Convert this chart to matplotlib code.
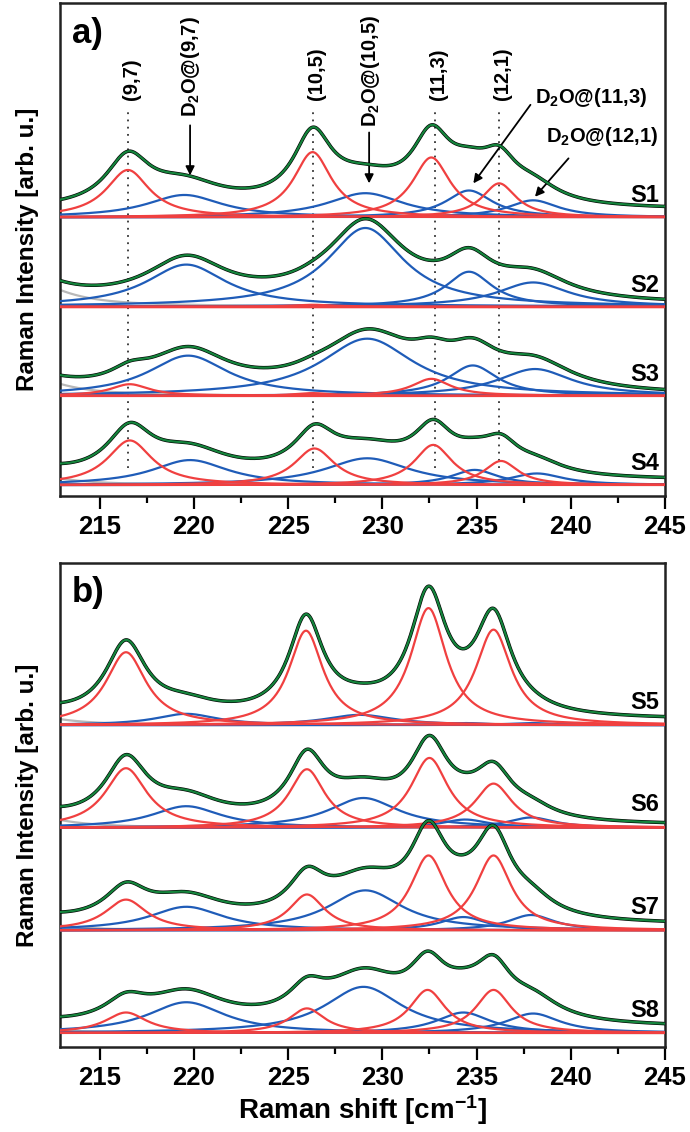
import numpy as np
import matplotlib
matplotlib.use('Agg')
import matplotlib.pyplot as plt
from matplotlib.ticker import MultipleLocator

plt.rcParams['font.family'] = ['Liberation Sans', 'DejaVu Sans']
plt.rcParams['font.weight'] = 'bold'
plt.rcParams['mathtext.fontset'] = 'custom'
plt.rcParams['mathtext.rm'] = 'Liberation Sans:bold'
plt.rcParams['mathtext.bf'] = 'Liberation Sans:bold'
plt.rcParams['mathtext.it'] = 'Liberation Sans:bold'
plt.rcParams['mathtext.default'] = 'bf'

# --- data -------------------------------------------------------------
labels_a = ['S1', 'S2', 'S3', 'S4']
labels_b = ['S5', 'S6', 'S7', 'S8']

# empty tubes (9,7) (10,5) (11,3) (12,1): centre, height, FWHM
red_pos_a = [[216.5, 226.3, 232.6, 236.2], [216.6, 226.3, 232.6, 236.2],
             [216.6, 226.3, 232.6, 236.2], [216.6, 226.4, 232.7, 236.3]]
red_amp_a = [[0.53, 0.73, 0.67, 0.38], [0.0, 0.02, 0.0, 0.0],
             [0.13, 0.03, 0.19, 0.0], [0.50, 0.41, 0.45, 0.27]]
red_fwhm_a = [[2.8, 2.45, 2.45, 2.2], [2.6, 2.4, 2.4, 2.2],
              [2.5, 2.4, 2.5, 2.2], [2.9, 2.6, 2.45, 2.2]]

# D2O filled tubes
blue_pos_a = [[219.5, 229.1, 234.6, 238.0], [219.6, 229.1, 234.6, 238.0],
              [219.7, 229.2, 234.8, 238.1], [219.8, 229.2, 234.9, 238.2]]
blue_amp_a = [[0.25, 0.27, 0.30, 0.19], [0.47, 0.88, 0.39, 0.27],
              [0.45, 0.64, 0.34, 0.30], [0.28, 0.30, 0.17, 0.13]]
blue_fwhm_a = [[4.9, 4.9, 3.0, 3.3], [5.15, 4.95, 3.0, 4.6],
               [5.2, 6.0, 3.2, 4.8], [5.0, 5.5, 3.0, 3.5]]
bg_amp_a = [0.0, 0.32, 0.23, 0.13]
offset_a = [0.08, 0.02, 0.0, 0.05]

red_pos_b = [[216.4, 225.95, 232.45, 235.9], [216.4, 226.0, 232.5, 235.9],
             [216.4, 226.0, 232.45, 235.9], [216.4, 226.0, 232.4, 235.9]]
red_amp_b = [[0.71, 0.92, 1.14, 0.93], [0.58, 0.57, 0.68, 0.43],
             [0.30, 0.35, 0.73, 0.73], [0.20, 0.24, 0.42, 0.42]]
red_fwhm_b = [[2.6, 2.2, 2.3, 2.3], [2.7, 2.3, 2.4, 2.4],
              [2.7, 2.3, 2.3, 2.3], [2.7, 2.3, 2.3, 2.3]]
blue_pos_b = [[219.6, 228.8, 234.4, 237.9], [219.6, 229.0, 234.4, 237.9],
              [219.6, 229.1, 234.3, 237.9], [219.6, 229.0, 234.3, 238.0]]
blue_amp_b = [[0.11, 0.10, 0.02, 0.02], [0.21, 0.29, 0.08, 0.10],
              [0.23, 0.39, 0.13, 0.15], [0.30, 0.45, 0.20, 0.19]]
blue_fwhm_b = [[4.0, 4.5, 3.0, 3.0], [4.5, 4.5, 3.0, 3.0],
               [4.8, 4.8, 3.0, 3.0], [5.0, 5.0, 3.5, 3.5]]
bg_amp_b = [0.10, 0.13, 0.08, 0.05]
offset_b = [0.05, 0.02, 0.05, 0.05]

# background component (grey), centred left of the window
bg_pos = 211.0
bg_fwhm = 4.5

rbm_lines = [216.5, 226.3, 232.8, 236.2]
chir_labels = ['(9,7)', '(10,5)', '(11,3)', '(12,1)']

RED = '#f04040'
BLUE = '#1f5cb8'
GREEN = '#15843c'
GREY = '#b8b8b8'

x = np.linspace(212.9, 245, 700)


def lorentz(x, x0, a, fwhm):
    return a / (1 + ((x - x0) / (fwhm / 2)) ** 2)


def draw_panel(ax, labels, rpos, ramp, rfw, bpos, bamp, bfw, bga, offs):
    n = len(labels)
    for i, lab in enumerate(labels):
        base = n - 1 - i
        bg = lorentz(x, bg_pos, bga[i], bg_fwhm)
        reds = [lorentz(x, p, a, w) for p, a, w in zip(rpos[i], ramp[i], rfw[i])]
        blues = [lorentz(x, p, a, w) for p, a, w in zip(bpos[i], bamp[i], bfw[i])]
        total = bg + sum(reds) + sum(blues) + offs[i]

        ax.plot(x, base + bg, color=GREY, lw=1.6, zorder=2)
        for b in blues:
            ax.plot(x, base + b, color=BLUE, lw=1.6, zorder=3)
        for r in reds:
            ax.plot(x, base + r, color=RED, lw=1.6, zorder=4)
        ax.plot(x, base + total, color='black', lw=2.5, zorder=5)
        ax.plot(x, base + total, color=GREEN, lw=1.6, zorder=6)
        ax.text(244.7, base + 0.11, lab, ha='right', va='bottom',
                fontsize=17, fontweight='bold', zorder=7)

    ax.set_xlim(212.9, 245)
    ax.set_yticks([])
    ax.xaxis.set_major_locator(MultipleLocator(5))
    ax.xaxis.set_minor_locator(MultipleLocator(2.5))
    ax.tick_params(axis='x', which='major', direction='out', length=9,
                   width=1.6, labelsize=18.5, pad=5)
    ax.tick_params(axis='x', which='minor', direction='out', length=5, width=1.6)
    for s in ax.spines.values():
        s.set_linewidth(1.8)
        s.set_color('#222222')
    ax.set_ylabel('Raman Intensity [arb. u.]', fontsize=17.5, fontweight='bold')
    ax.yaxis.set_label_coords(-0.035, 0.5)


fig = plt.figure(figsize=(6.9, 11.32), dpi=100)
ax1 = fig.add_axes([0.087, 0.5618, 0.8768, 0.4355])
ax2 = fig.add_axes([0.087, 0.0751, 0.8768, 0.4276])

draw_panel(ax1, labels_a, red_pos_a, red_amp_a, red_fwhm_a,
           blue_pos_a, blue_amp_a, blue_fwhm_a, bg_amp_a, offset_a)
draw_panel(ax2, labels_b, red_pos_b, red_amp_b, red_fwhm_b,
           blue_pos_b, blue_amp_b, blue_fwhm_b, bg_amp_b, offset_b)

ax1.set_ylim(-0.123, 5.40)
ax2.set_ylim(-0.136, 4.58)

# panel a annotations
ax1.vlines(rbm_lines, 0.19, 4.22, colors='#333333', lw=1.3,
           linestyles=(0, (1, 3)), zorder=1)
for xp, t in zip(rbm_lines, chir_labels):
    ax1.text(xp + 0.2, 4.31, t, rotation=90, ha='center', va='bottom',
             fontsize=14.5, fontweight='bold')

arrow = dict(arrowstyle='-|>', color='black', lw=1.3, mutation_scale=13,
             shrinkA=0, shrinkB=0)
ax1.text(219.8, 4.12, 'D$_2$O@(9,7)', rotation=90, ha='center', va='bottom',
         fontsize=14.5)
ax1.annotate('', xy=(219.8, 3.47), xytext=(219.8, 4.03), arrowprops=arrow)
ax1.text(229.35, 4.01, 'D$_2$O@(10,5)', rotation=90, ha='center', va='bottom',
         fontsize=14.5)
ax1.annotate('', xy=(229.3, 3.38), xytext=(229.3, 3.95), arrowprops=arrow)
ax1.text(238.1, 4.34, 'D$_2$O@(11,3)', ha='left', va='center', fontsize=14.5)
ax1.annotate('', xy=(234.83, 3.38), xytext=(237.86, 4.26), arrowprops=arrow)
ax1.text(238.66, 3.90, 'D$_2$O@(12,1)', ha='left', va='center', fontsize=14.5)
ax1.annotate('', xy=(238.1, 3.23), xytext=(239.88, 3.66), arrowprops=arrow)

ax1.text(0.02, 0.972, 'a)', transform=ax1.transAxes, ha='left', va='top',
         fontsize=25, fontweight='bold')
ax2.text(0.02, 0.972, 'b)', transform=ax2.transAxes, ha='left', va='top',
         fontsize=25, fontweight='bold')

ax2.set_xlabel('Raman shift [cm$^{-1}$]', fontsize=20, fontweight='bold',
               labelpad=2)

fig.savefig('out.png', dpi=100)
